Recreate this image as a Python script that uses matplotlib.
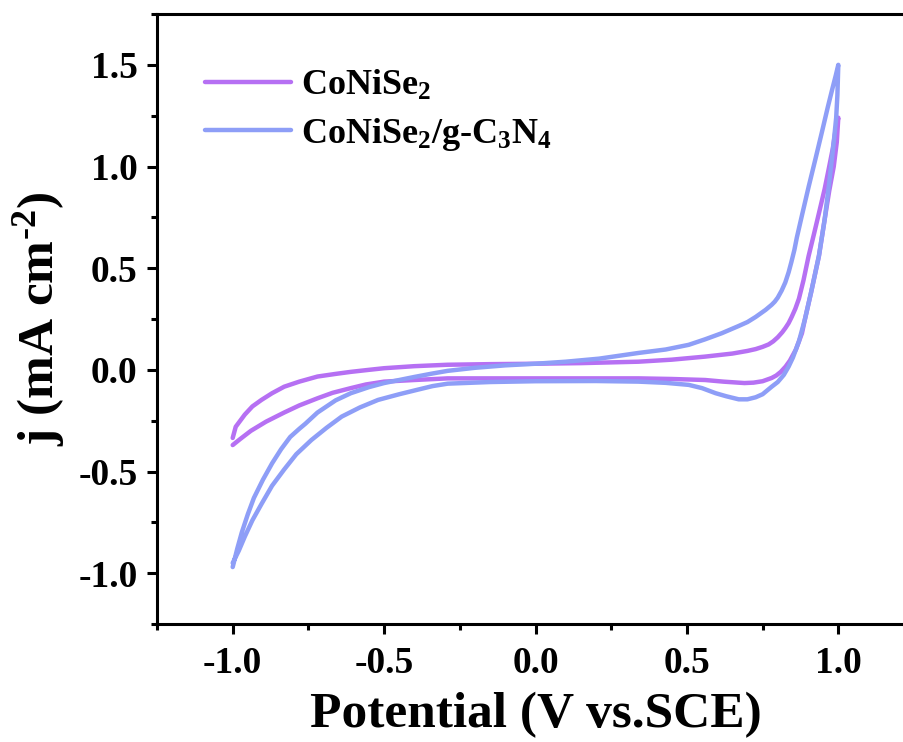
import numpy as np
import matplotlib
matplotlib.use("Agg")
import matplotlib.pyplot as plt
from matplotlib.ticker import MultipleLocator

# fonts: Times-like bold everywhere
plt.rcParams['font.family'] = ['Liberation Serif', 'DejaVu Serif']
plt.rcParams['font.weight'] = 'bold'
plt.rcParams['mathtext.fontset'] = 'custom'
plt.rcParams['mathtext.rm'] = 'Liberation Serif:bold'
plt.rcParams['mathtext.bf'] = 'Liberation Serif:bold'
plt.rcParams['mathtext.it'] = 'Liberation Serif:italic:bold'
plt.rcParams['mathtext.default'] = 'bf'

# CoNiSe2 - anodic (upper) branch
cns_fwd_x = [-1.00, -0.99, -0.975, -0.96, -0.935, -0.905, -0.87, -0.83, -0.78, -0.72, -0.66,
             -0.61, -0.55, -0.50, -0.45, -0.40, -0.29, -0.15, 0.00, 0.15, 0.34, 0.45, 0.56,
             0.65, 0.70, 0.727, 0.75, 0.77, 0.785, 0.80, 0.815, 0.825, 0.836, 0.846, 0.858,
             0.87, 0.885, 0.902, 0.92, 0.936, 0.955, 0.97, 0.982, 0.99, 1.00]
cns_fwd_y = [-0.335, -0.28, -0.25, -0.22, -0.18, -0.148, -0.115, -0.083, -0.058, -0.033, -0.02,
             -0.01, 0.0, 0.008, 0.013, 0.018, 0.025, 0.028, 0.03, 0.033, 0.04, 0.05, 0.065,
             0.08, 0.093, 0.102, 0.113, 0.125, 0.14, 0.16, 0.185, 0.205, 0.23, 0.26, 0.30,
             0.35, 0.44, 0.56, 0.67, 0.77, 0.89, 1.0, 1.09, 1.17, 1.24]
# CoNiSe2 - cathodic (lower) branch
cns_rev_x = [1.00, 0.995, 0.985, 0.97, 0.955, 0.936, 0.91, 0.89, 0.88, 0.86, 0.84, 0.826,
             0.81, 0.795, 0.78, 0.75, 0.72, 0.69, 0.62, 0.56, 0.45, 0.34, 0.20, 0.00, -0.15,
             -0.29, -0.40, -0.50, -0.56, -0.61, -0.67, -0.72, -0.78, -0.83, -0.89, -0.94,
             -0.975, -1.00]
cns_rev_y = [1.24, 1.12, 1.00, 0.88, 0.74, 0.56, 0.38, 0.25, 0.18, 0.10, 0.045, 0.016,
             -0.01, -0.028, -0.04, -0.056, -0.063, -0.065, -0.058, -0.05, -0.045, -0.042,
             -0.042, -0.042, -0.042, -0.042, -0.05, -0.058, -0.072, -0.09, -0.113, -0.14,
             -0.175, -0.21, -0.255, -0.30, -0.34, -0.37]

# CoNiSe2/g-C3N4 - anodic (upper) branch
cn_fwd_x = [-1.00, -0.985, -0.97, -0.95, -0.93, -0.90, -0.87, -0.84, -0.81, -0.78, -0.76,
            -0.72, -0.66, -0.61, -0.55, -0.50, -0.45, -0.40, -0.34, -0.29, -0.20, -0.10, 0.00,
            0.10, 0.21, 0.34, 0.43, 0.506, 0.56, 0.615, 0.67, 0.70, 0.727, 0.76, 0.78, 0.79,
            0.80, 0.813, 0.825, 0.836, 0.845, 0.855, 0.863, 0.88, 0.902, 0.925, 0.946, 0.965,
            0.98, 0.992, 1.00]
cn_fwd_y = [-0.97, -0.88, -0.80, -0.71, -0.63, -0.54, -0.46, -0.39, -0.33, -0.29, -0.265,
            -0.21, -0.15, -0.115, -0.085, -0.065, -0.05, -0.035, -0.018, -0.005, 0.01, 0.022,
            0.03, 0.04, 0.055, 0.083, 0.10, 0.123, 0.15, 0.18, 0.215, 0.235, 0.26, 0.295, 0.32,
            0.335, 0.355, 0.39, 0.43, 0.48, 0.53, 0.59, 0.65, 0.76, 0.90, 1.04, 1.17, 1.29,
            1.38, 1.45, 1.50]
# CoNiSe2/g-C3N4 - cathodic (lower) branch
cn_rev_x = [1.00, 0.997, 0.993, 0.985, 0.97, 0.955, 0.936, 0.91, 0.89, 0.87, 0.85, 0.836,
            0.82, 0.80, 0.78, 0.75, 0.727, 0.70, 0.671, 0.63, 0.595, 0.55, 0.506, 0.43, 0.34,
            0.20, 0.00, -0.15, -0.29, -0.34, -0.39, -0.45, -0.52, -0.58, -0.64, -0.69, -0.74,
            -0.79, -0.83, -0.87, -0.905, -0.935, -0.96, -0.98, -1.00]
cn_rev_y = [1.50, 1.35, 1.24, 1.12, 0.92, 0.74, 0.56, 0.38, 0.25, 0.14, 0.06, 0.016,
            -0.025, -0.06, -0.083, -0.12, -0.135, -0.145, -0.145, -0.13, -0.115, -0.09, -0.074,
            -0.064, -0.058, -0.055, -0.056, -0.06, -0.068, -0.08, -0.098, -0.12, -0.148, -0.185,
            -0.23, -0.285, -0.345, -0.415, -0.49, -0.57, -0.66, -0.74, -0.82, -0.89, -0.95]

labels = ['CoNiSe$_2$', 'CoNiSe$_2$/g-C$_3$N$_4$']
colors = ['#b670f3', '#8e9ef7']

W, H = 904, 742
fig = plt.figure(figsize=(W / 100, H / 100), dpi=100)
ax = fig.add_axes([157 / W, 1 - 624 / H, (914 - 157) / W, (624 - 14) / H])

ax.plot(cns_fwd_x + cns_rev_x, cns_fwd_y + cns_rev_y, color=colors[0], lw=3.2,
        label=labels[0], solid_joinstyle='round', solid_capstyle='round')
ax.plot(cn_fwd_x + cn_rev_x, cn_fwd_y + cn_rev_y, color=colors[1], lw=3.2,
        label=labels[1], solid_joinstyle='round', solid_capstyle='round')

ax.set_xlim(-1.25, 1.25)
ax.set_ylim(-1.25, 1.75)
ax.xaxis.set_minor_locator(MultipleLocator(0.25))
ax.yaxis.set_minor_locator(MultipleLocator(0.25))
ax.set_xticks([-1.0, -0.5, 0.0, 0.5, 1.0])
ax.set_xticklabels(['-1.0', '-0.5', '0.0', '0.5', '1.0'])
ax.set_yticks([-1.0, -0.5, 0.0, 0.5, 1.0, 1.5])
ax.set_yticklabels(['-1.0', '-0.5', '0.0', '0.5', '1.0', '1.5'])

ax.spines['right'].set_visible(False)
for s in ax.spines.values():
    s.set_linewidth(2.2)
ax.tick_params(which='both', direction='out', width=2.2, top=False, right=False)
ax.tick_params(which='major', length=7, labelsize=27, pad=7)
ax.tick_params(which='minor', length=4.5)
ax.tick_params(axis='x', which='major', pad=9)

ax.set_xlabel('Potential (V vs.SCE)', fontsize=37, fontweight='bold', labelpad=8)
ax.set_ylabel('j (mA cm$^{\u2010 2}$)', fontsize=37, fontweight='bold', labelpad=8)

ax.legend(loc='upper left', bbox_to_anchor=(0.063, 0.91), frameon=False, fontsize=26,
          handlelength=2.4, handletextpad=0.28, labelspacing=0.36, borderpad=0,
          borderaxespad=0)

fig.savefig('out.png', dpi=100)
